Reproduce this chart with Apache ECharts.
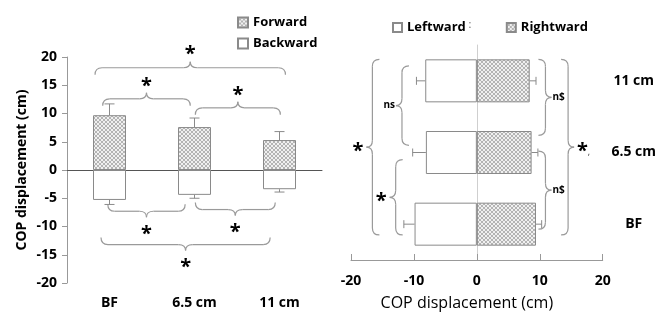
<!DOCTYPE html>
<html>
<head>
<meta charset="utf-8">
<script src="https://cdn.jsdelivr.net/npm/echarts@6/dist/echarts.min.js"></script>
<style>
html, body { margin: 0; padding: 0; background: #fff; }
#chart { width: 659px; height: 316px; }
</style>
</head>
<body>
<div id="chart"></div>
<script>
// 左图：前后方向
const apCategories = ['BF', '6.5 cm', '11 cm'];
const forwardMean = [9.7, 7.6, 5.3];
const forwardErr = [11.7, 9.2, 6.8];
const backwardMean = [-5.3, -4.4, -3.4];
const backwardErr = [-6.1, -5.0, -3.9];
const apTicks = { min: -20, max: 20, interval: 5 };

// 右图：左右方向（从下到上）
const mlCategories = ['BF', '6.5 cm', '11 cm'];
const leftwardMean = [-9.9, -8.1, -8.2];
const leftwardErr = [-11.6, -10.2, -9.6];
const rightwardMean = [9.4, 8.7, 8.4];
const rightwardErr = [10.3, 9.7, 9.4];
const mlTicks = { min: -20, max: 20, interval: 10 };

// 显著性括号：from/to 为类目位置，at 为数值位置
const apBraces = [
  { from: -0.17, to: 2.07, at: 18.1, dir: 'up', label: '*' },
  { from: -0.08, to: 0.95, at: 12.6, dir: 'up', label: '*' },
  { from: 1.01, to: 2.01, at: 11.0, dir: 'up', label: '*' },
  { from: -0.02, to: 0.89, at: -7.3, dir: 'down', label: '*' },
  { from: 1.01, to: 1.95, at: -7.0, dir: 'down', label: '*' },
  { from: -0.1, to: 1.89, at: -13.2, dir: 'down', label: '*' }
];
const mlBraces = [
  { from: 2.30, to: -0.15, at: -16.6, dir: 'left', label: '*' },
  { from: 2.21, to: 1.10, at: -11.9, dir: 'left', label: 'ns' },
  { from: 0.90, to: -0.15, at: -12.9, dir: 'left', label: '*' },
  { from: 2.30, to: 1.24, at: 10.9, dir: 'right', label: 'n$' },
  { from: 1.02, to: -0.07, at: 10.9, dir: 'right', label: 'n$' },
  { from: 2.30, to: -0.15, at: 14.5, dir: 'right', label: '*' }
];

const FONT = '"Open Sans", "DejaVu Sans", sans-serif';
const GREY = '#8a8a8a';

// 网纹填充
function hatch() {
  const c = document.createElement('canvas');
  c.width = c.height = 4;
  const g = c.getContext('2d');
  g.fillStyle = '#f0f0f0';
  g.fillRect(0, 0, 4, 4);
  g.fillStyle = '#b4b4b4';
  for (let i = 0; i < 4; i++) {
    g.fillRect(i, i, 1, 1);
    g.fillRect(3 - i, i, 1, 1);
  }
  return { image: c, repeat: 'repeat' };
}
const pattern = hatch();

function errorBars(horizontal, capHalf) {
  return function (params, api) {
    const c = api.value(0), a = api.value(1), b = api.value(2);
    const p1 = horizontal ? api.coord([a, c]) : api.coord([c, a]);
    const p2 = horizontal ? api.coord([b, c]) : api.coord([c, b]);
    const style = { stroke: GREY, lineWidth: 1 };
    const cap = horizontal
      ? { x1: p2[0], y1: p2[1] - capHalf, x2: p2[0], y2: p2[1] + capHalf }
      : { x1: p2[0] - capHalf, y1: p2[1], x2: p2[0] + capHalf, y2: p2[1] };
    return {
      type: 'group',
      children: [
        { type: 'line', shape: { x1: p1[0], y1: p1[1], x2: p2[0], y2: p2[1] }, style: style },
        { type: 'line', shape: cap, style: style }
      ]
    };
  };
}

const barStyle = (fill) => ({ color: fill, borderColor: GREY, borderWidth: 1 });
const boldLabel = { color: '#000', fontFamily: FONT, fontWeight: 'bold', fontSize: 14 };

const chart = echarts.init(document.getElementById('chart'));

const option = {
  animation: false,
  backgroundColor: '#fff',
  legend: [
    {
      data: ['Forward', 'Backward'],
      orient: 'vertical',
      left: 232, top: 11,
      itemWidth: 10, itemHeight: 10, itemGap: 8,
      icon: 'rect',
      textStyle: { color: '#000', fontFamily: FONT, fontWeight: 'bold', fontSize: 13 }
    },
    {
      data: ['Leftward', 'Rightward'],
      orient: 'horizontal',
      left: 387, top: 16,
      itemWidth: 9, itemHeight: 9, itemGap: 40,
      icon: 'rect',
      textStyle: { color: '#000', fontFamily: FONT, fontWeight: 'bold', fontSize: 13 }
    }
  ],
  grid: [
    { left: 67, top: 57, width: 255, height: 226 },
    { left: 351, top: 45, width: 254, height: 218 }
  ],
  xAxis: [
    {
      gridIndex: 0, type: 'category', data: apCategories, position: 'top',
      axisLine: { onZero: true, lineStyle: { color: '#555', width: 1 } },
      axisTick: { show: false }, axisLabel: { show: false }
    },
    {
      gridIndex: 0, type: 'category', data: apCategories, position: 'bottom',
      axisLine: { show: false, onZero: false }, axisTick: { show: false },
      axisLabel: Object.assign({ margin: 13 }, boldLabel)
    },
    {
      gridIndex: 1, type: 'value', position: 'bottom',
      min: mlTicks.min, max: mlTicks.max, interval: mlTicks.interval,
      axisLine: { show: true, onZero: false, lineStyle: { color: '#999' } },
      axisTick: { show: true, inside: true, length: 6, lineStyle: { color: '#999' } },
      splitLine: { show: false },
      axisLabel: Object.assign({ margin: 14 }, boldLabel),
      name: 'COP displacement (cm)', nameLocation: 'middle', nameGap: 35,
      nameTextStyle: { color: '#000', fontFamily: FONT, fontSize: 16, padding: [0, 20, 0, 0] }
    }
  ],
  yAxis: [
    {
      gridIndex: 0, type: 'value',
      min: apTicks.min, max: apTicks.max, interval: apTicks.interval,
      axisLine: { show: true, lineStyle: { color: '#999' } },
      axisTick: { show: true, length: 5, lineStyle: { color: '#999' } },
      splitLine: { show: false },
      axisLabel: Object.assign({ margin: 10 }, boldLabel),
      name: 'COP displacement (cm)', nameLocation: 'middle', nameGap: 38,
      nameTextStyle: { color: '#000', fontFamily: FONT, fontWeight: 'bold', fontSize: 14 }
    },
    {
      gridIndex: 1, type: 'category', data: mlCategories, position: 'left',
      axisLine: { onZero: true, lineStyle: { color: '#cfcfcf', width: 1 } },
      axisTick: { show: false }, axisLabel: { show: false }
    },
    {
      gridIndex: 1, type: 'category', data: mlCategories, position: 'right',
      axisLine: { show: false, onZero: false }, axisTick: { show: false },
      axisLabel: Object.assign({ margin: 31, align: 'center', padding: [6, 0, 0, 0] }, boldLabel)
    }
  ],
  series: [
    {
      name: 'Forward', type: 'bar', xAxisIndex: 0, yAxisIndex: 0,
      data: forwardMean, barWidth: 33, barGap: '-100%', itemStyle: barStyle(pattern)
    },
    {
      name: 'Backward', type: 'bar', xAxisIndex: 0, yAxisIndex: 0,
      data: backwardMean, barWidth: 33, barGap: '-100%', itemStyle: barStyle('#fff')
    },
    {
      type: 'custom', xAxisIndex: 0, yAxisIndex: 0, renderItem: errorBars(false, 5),
      encode: { x: 0, y: [1, 2] },
      data: forwardMean.map((v, i) => [i, v, forwardErr[i]])
        .concat(backwardMean.map((v, i) => [i, v, backwardErr[i]])),
      z: 3
    },
    {
      name: 'Leftward', type: 'bar', xAxisIndex: 2, yAxisIndex: 1,
      data: leftwardMean, barWidth: 43, barGap: '-100%', itemStyle: barStyle('#fff')
    },
    {
      name: 'Rightward', type: 'bar', xAxisIndex: 2, yAxisIndex: 1,
      data: rightwardMean, barWidth: 43, barGap: '-100%', itemStyle: barStyle(pattern)
    },
    {
      type: 'custom', xAxisIndex: 2, yAxisIndex: 1, renderItem: errorBars(true, 4),
      encode: { y: 0, x: [1, 2] },
      data: leftwardMean.map((v, i) => [i, v, leftwardErr[i]])
        .concat(rightwardMean.map((v, i) => [i, v, rightwardErr[i]])),
      z: 3
    }
  ]
};

chart.setOption(option);

// 括号位置由坐标轴换算
function catPixel(finder, horizontalCat, pos, val) {
  const a = chart.convertToPixel(finder, horizontalCat ? [0, val] : [val, 0]);
  const b = chart.convertToPixel(finder, horizontalCat ? [1, val] : [val, 1]);
  return [a[0] + (b[0] - a[0]) * pos, a[1] + (b[1] - a[1]) * pos];
}

const braceStyle = { stroke: '#9a9a9a', fill: null, lineWidth: 1.2 };
function seg(x1, y1, x2, y2) {
  return { type: 'line', silent: true, shape: { x1: x1, y1: y1, x2: x2, y2: y2 }, style: braceStyle };
}
function curve(x1, y1, cx, cy, x2, y2) {
  return { type: 'bezierCurve', silent: true, shape: { x1: x1, y1: y1, cpx1: cx, cpy1: cy, x2: x2, y2: y2 }, style: braceStyle };
}

function braceGraphics(list, finder, horizontalCat) {
  const out = [];
  const e = 7, tip = 6, r = 7;
  list.forEach(function (br) {
    const p1 = catPixel(finder, horizontalCat, br.from, br.at);
    const p2 = catPixel(finder, horizontalCat, br.to, br.at);
    const star = br.label === '*';
    let lx, ly, align;
    if (horizontalCat) {
      const y = p1[1];
      const xa = Math.min(p1[0], p2[0]), xb = Math.max(p1[0], p2[0]), xm = (xa + xb) / 2;
      const s = br.dir === 'up' ? 1 : -1;
      out.push(
        curve(xa, y + s * e, xa, y, xa + r, y),
        seg(xa + r, y, xm - r, y),
        curve(xm - r, y, xm, y, xm, y - s * tip),
        curve(xm, y - s * tip, xm, y, xm + r, y),
        seg(xm + r, y, xb - r, y),
        curve(xb - r, y, xb, y, xb, y + s * e)
      );
      lx = xm; ly = y - s * (tip + 12) + 5;
      align = 'center';
    } else {
      const x = p1[0];
      const ya = Math.min(p1[1], p2[1]), yb = Math.max(p1[1], p2[1]), ym = (ya + yb) / 2;
      const s = br.dir === 'left' ? 1 : -1;
      out.push(
        curve(x + s * e, ya, x, ya, x, ya + r),
        seg(x, ya + r, x, ym - r),
        curve(x, ym - r, x, ym, x - s * tip, ym),
        curve(x - s * tip, ym, x, ym, x, ym + r),
        seg(x, ym + r, x, yb - r),
        curve(x, yb - r, x, yb, x + s * e, yb)
      );
      lx = x - s * (tip + (star ? 3 : 1)); ly = ym;
      align = s > 0 ? 'right' : 'left';
      if (star) ly += 4;
    }
    out.push({
      type: 'text', x: lx, y: ly, silent: true,
      style: {
        text: br.label,
        font: (star ? 'bold 20px ' : 'bold 10px ') + FONT,
        fill: '#000', align: align, verticalAlign: 'middle'
      }
    });
  });
  return out;
}

const graphics = braceGraphics(apBraces, { xAxisIndex: 0, yAxisIndex: 0 }, true)
  .concat(braceGraphics(mlBraces, { xAxisIndex: 2, yAxisIndex: 1 }, false));
graphics.push({
  type: 'text', x: 470, y: 25, silent: true,
  style: { text: ':', font: '11px ' + FONT, fill: '#666', align: 'center', verticalAlign: 'middle' }
});
graphics.push({
  type: 'text', x: 589, y: 152, silent: true,
  style: { text: ',', font: '9px ' + FONT, fill: '#333', align: 'center', verticalAlign: 'middle' }
});
chart.setOption({ graphic: graphics });
</script>
</body>
</html>
